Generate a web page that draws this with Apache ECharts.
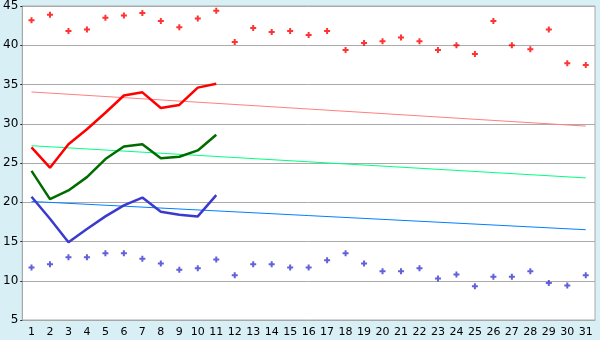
<!DOCTYPE html>
<html><head><meta charset="utf-8">
<script src="https://cdn.jsdelivr.net/npm/echarts@6/dist/echarts.min.js"></script>
<style>html,body{margin:0;padding:0;background:#d9eff6;}#c{width:600px;height:340px;}</style>
</head><body><div id="c"></div>
<script>
var days = ['1','2','3','4','5','6','7','8','9','10','11','12','13','14','15','16','17','18','19','20','21','22','23','24','25','26','27','28','29','30','31'];
var yTicks = [5, 45, 5]; // min, max, interval
var maxScatter = [43.2,43.9,41.8,42.0,43.5,43.8,44.1,43.1,42.3,43.4,44.4,40.4,42.2,41.7,41.8,41.3,41.8,39.4,40.3,40.5,41.0,40.5,39.4,40.0,38.9,43.1,40.0,39.5,42.0,37.7,37.5];
var minScatter = [11.7,12.1,13.0,13.0,13.5,13.5,12.8,12.2,11.4,11.6,12.7,10.7,12.1,12.1,11.7,11.7,12.6,13.5,12.2,11.2,11.2,11.6,10.3,10.8,9.3,10.5,10.5,11.2,9.7,9.4,10.7];
var redLine = [27.0,24.4,27.4,29.3,31.4,33.6,34.0,32.0,32.4,34.6,35.1];
var greenLine = [24.0,20.4,21.5,23.2,25.5,27.1,27.4,25.6,25.8,26.6,28.6];
var blueLine = [20.7,17.9,14.9,16.6,18.2,19.6,20.6,18.8,18.4,18.2,20.9];
var redTrend = [34.05, 29.7];
var greenTrend = [27.2, 23.1];
var blueTrend = [20.1, 16.5];

function ends(pair){ var a = days.map(function(){return null;}); a[0]=pair[0]; a[days.length-1]=pair[1]; return a; }
var plus = 'path://M2,0H4V2H6V4H4V6H2V4H0V2H2Z';
var chart = echarts.init(document.getElementById('c'), null, {renderer:'canvas'});
chart.setOption({
  animation:false,
  backgroundColor:'#d9eff6',
  grid:{left:21,right:5,top:5,bottom:20,show:true,backgroundColor:'#ffffff',borderColor:'#aaaaaa',borderWidth:1},
  xAxis:{type:'category',data:days,boundaryGap:true,
    axisLine:{lineStyle:{color:'#a8a8a8',width:1}},
    axisTick:{alignWithLabel:true,length:4,lineStyle:{color:'#222'}},
    axisLabel:{color:'#000',fontSize:11,fontFamily:'DejaVu Sans',margin:7},
    splitLine:{show:false}},
  yAxis:{type:'value',min:yTicks[0],max:yTicks[1],interval:yTicks[2],
    axisLine:{show:true,lineStyle:{color:'#a8a8a8'}},
    axisTick:{show:true,length:2,lineStyle:{color:'#222'}},
    axisLabel:{color:'#000',fontSize:12,fontFamily:'DejaVu Sans',margin:4},
    splitLine:{lineStyle:{color:'#aaaaaa',width:1}}},
  series:[
    {type:'line',data:ends(redTrend),connectNulls:true,symbol:'none',lineStyle:{color:'#ff8080',width:1}},
    {type:'line',data:ends(greenTrend),connectNulls:true,symbol:'none',lineStyle:{color:'#00ff80',width:1}},
    {type:'line',data:ends(blueTrend),connectNulls:true,symbol:'none',lineStyle:{color:'#0080ff',width:1}},
    {type:'line',data:redLine,symbol:'none',lineStyle:{color:'#ff0000',width:2.5}},
    {type:'line',data:greenLine,symbol:'none',lineStyle:{color:'#006c00',width:2.5}},
    {type:'line',data:blueLine,symbol:'none',lineStyle:{color:'#3a3ad0',width:2.5}},
    {type:'scatter',data:maxScatter,symbol:plus,symbolSize:6,itemStyle:{color:'#ff0000'}},
    {type:'scatter',data:minScatter,symbol:plus,symbolSize:6,itemStyle:{color:'#3a3ad0'}}
  ]
});
</script></body></html>
